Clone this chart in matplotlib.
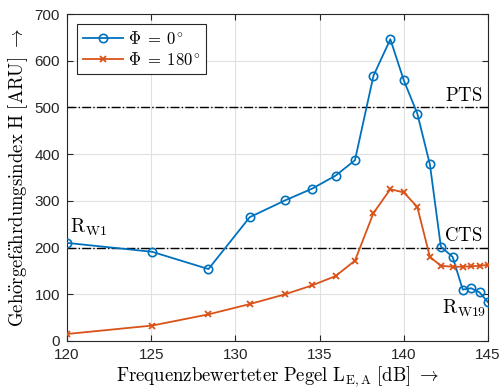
import matplotlib
matplotlib.use("Agg")
import matplotlib.pyplot as plt

plt.rcParams['mathtext.fontset'] = 'cm'
plt.rcParams['font.family'] = ['Liberation Sans', 'DejaVu Sans']

x_vals = [120, 125.05, 128.4, 130.85, 132.95, 134.55, 135.95, 137.1, 138.2, 139.2,
          140.0, 140.8, 141.55, 142.2, 142.9, 143.5, 144.0, 144.5, 145.0]
h_phi0 = [210, 191, 154, 265, 301, 326, 354, 387, 568, 646,
          558, 487, 378, 202, 180, 110, 113, 104, 83]
h_phi180 = [15, 33, 57, 79, 100, 119, 139, 172, 274, 325,
            318, 287, 180, 161, 159, 159, 160, 161, 163]
thresholds = [200, 500]
threshold_labels = ['CTS', 'PTS']
x_ticks = [120, 125, 130, 135, 140, 145]
y_ticks = [0, 100, 200, 300, 400, 500, 600, 700]

fig = plt.figure(figsize=(5.0, 3.89), dpi=100)
ax = fig.add_axes([0.134, 0.1234, 0.842, 0.8406])

blue = '#0072BD'
orange = '#D95319'

for t in thresholds:
    ax.axhline(t, color='black', linestyle='-.', linewidth=1.0, zorder=2)

ax.plot(x_vals, h_phi0, color=blue, linewidth=1.3, marker='o', markersize=6,
        markerfacecolor='none', markeredgewidth=1.2, label=r'$\Phi\;=\;0^{\!\circ}$', zorder=3)
ax.plot(x_vals, h_phi180, color=orange, linewidth=1.3, marker='x', markersize=4,
        markeredgewidth=1.3, label=r'$\Phi\;=\;180^{\!\circ}$', zorder=3)

ax.set_xlim(120, 145)
ax.set_ylim(0, 700)
ax.set_xticks(x_ticks)
ax.set_yticks(y_ticks)
ax.tick_params(labelsize=11, direction='in', length=4, colors='#262626', pad=5,
               top=True, right=True)
ax.grid(True, color='#e0e0e0', linewidth=0.8)
ax.set_axisbelow(True)
for s in ax.spines.values():
    s.set_color('#262626')
    s.set_linewidth(0.8)

ax.set_xlabel(r'$\mathrm{Frequenzbewerteter\ Pegel\ L_{E,A}\ [dB]}\ \rightarrow$',
              fontsize=13.5, labelpad=2)
ax.set_ylabel(r'$\mathrm{Geh\ddot{o}rgef\ddot{a}hrdungsindex\ H\ [ARU]}\ \rightarrow$',
              fontsize=13.5, labelpad=3)

ax.text(144.65, 514, r'$\mathrm{' + threshold_labels[1] + '}$', fontsize=13.5,
        ha='right', va='baseline')
ax.text(144.65, 214, r'$\mathrm{' + threshold_labels[0] + '}$', fontsize=13.5,
        ha='right', va='baseline')
ax.text(120.18, 233, r'$\mathrm{R_{W1}}$', fontsize=14, ha='left', va='baseline')
ax.text(142.28, 59, r'$\mathrm{R_{W19}}$', fontsize=14, ha='left', va='baseline')

leg = ax.legend(loc='upper left', fontsize=12, fancybox=False, edgecolor='#262626',
                framealpha=1, handlelength=2.4, borderpad=0.35, labelspacing=0.25,
                handletextpad=0.3, borderaxespad=0.6)
leg.get_frame().set_linewidth(0.8)

fig.savefig('out.png', dpi=100)
